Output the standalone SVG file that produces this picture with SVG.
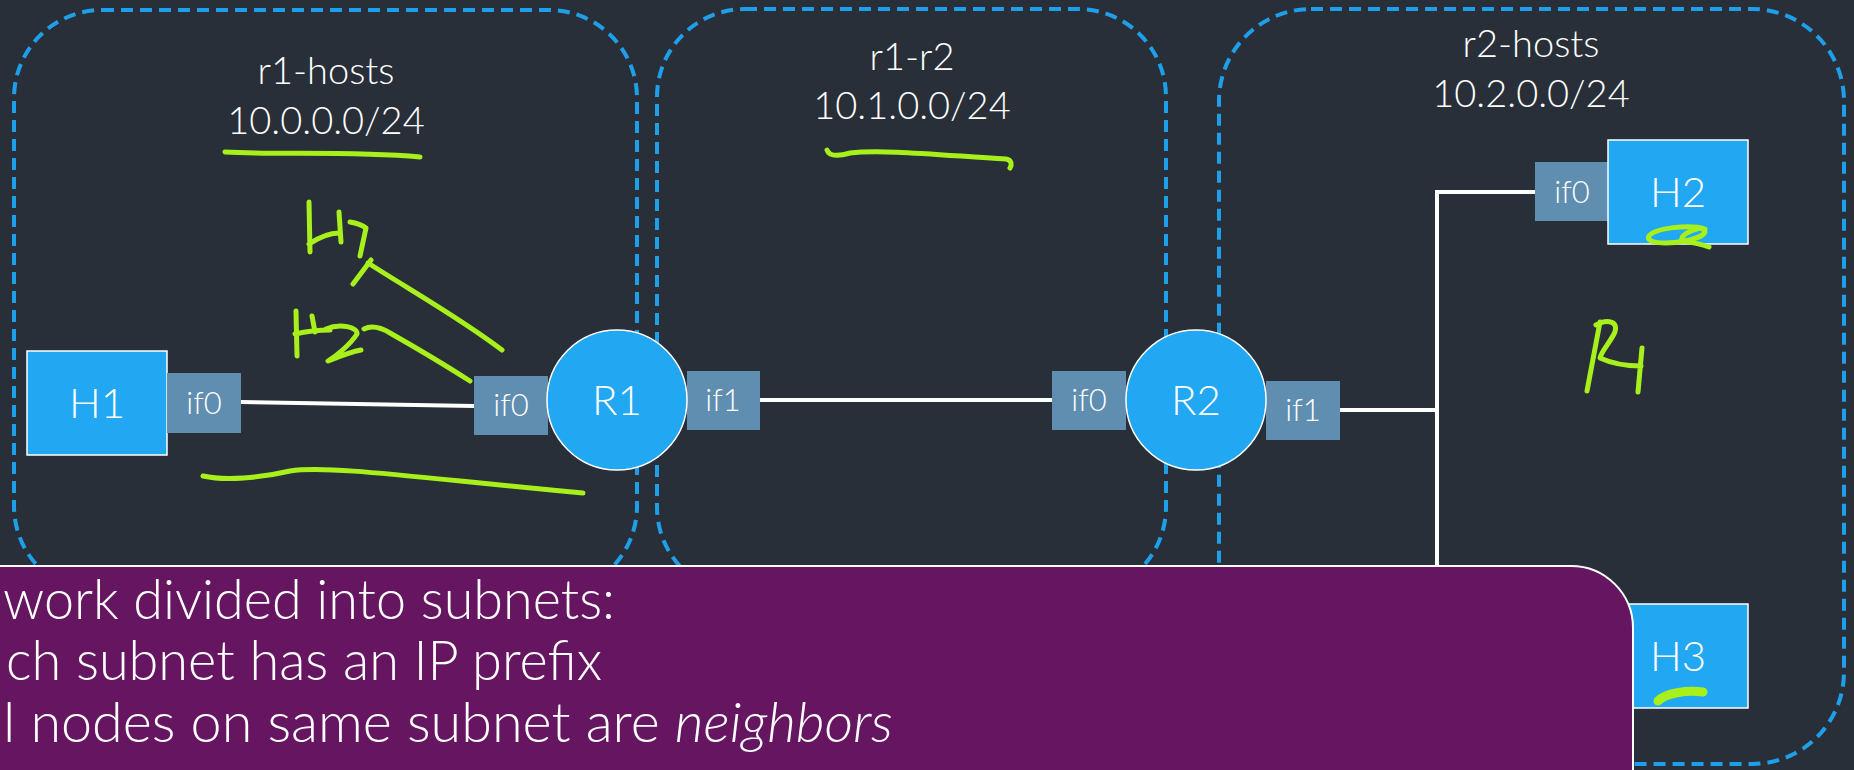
<svg xmlns="http://www.w3.org/2000/svg" width="1854" height="770" viewBox="0 0 1854 770">
  <style>
    .bg { fill: #282f38; }
    .subnet { fill: none; stroke: #1f9fea; stroke-width: 4; stroke-dasharray: 12 7; }
    .title { fill: #ffffff; font-family: Lato, "Liberation Sans", sans-serif; font-weight: 300; font-size: 38px; text-anchor: middle; }
    .link { fill: none; stroke: #ffffff; stroke-width: 4; }
    .node { fill: #22a7f2; stroke: #ffffff; stroke-width: 1.5; }
    .port { fill: #5f8eb0; }
    .nlabel { fill: #ffffff; font-family: Lato, "Liberation Sans", sans-serif; font-weight: 300; font-size: 42px; text-anchor: middle; }
    .plabel { fill: #ffffff; font-family: Lato, "Liberation Sans", sans-serif; font-weight: 300; font-size: 31px; text-anchor: middle; }
    .ink { fill: none; stroke: #a8f01c; stroke-width: 5; stroke-linecap: round; stroke-linejoin: round; }
    .panel { fill: #661661; stroke: #ffffff; stroke-width: 2; }
    .body { fill: #ffffff; font-family: Lato, "Liberation Sans", sans-serif; font-weight: 300; font-size: 56px; }
  </style>

  <rect class="bg" x="0" y="0" width="1854" height="770"/>

  <!-- subnets -->
  <g id="subnet-r1-hosts">
    <rect class="subnet" x="14" y="10" width="623" height="584" rx="88" ry="88"/>
    <text class="title" x="326" y="84">r1-hosts</text>
    <text class="title" x="326" y="134">10.0.0.0/24</text>
  </g>
  <g id="subnet-r1-r2">
    <rect class="subnet" x="657" y="9" width="509" height="586" rx="88" ry="88"/>
    <text class="title" x="912" y="70">r1-r2</text>
    <text class="title" x="912" y="119">10.1.0.0/24</text>
  </g>
  <g id="subnet-r2-hosts">
    <rect class="subnet" x="1219" y="9" width="625" height="755" rx="92" ry="92"/>
    <text class="title" x="1531" y="57">r2-hosts</text>
    <text class="title" x="1531" y="107">10.2.0.0/24</text>
  </g>

  <!-- links between interfaces -->
  <g id="connectors">
    <path class="link" d="M241,402 L474,406"/>
    <path class="link" d="M760,400 L1052,400"/>
    <path class="link" d="M1340,410 L1437,410"/>
    <path class="link" d="M1437,192 L1437,660"/>
    <path class="link" d="M1435,192 L1535,192"/>
  </g>

  <!-- hosts and routers -->
  <g id="H1">
    <rect class="node" x="27" y="351" width="140" height="104"/>
    <text class="nlabel" x="97" y="418">H1</text>
    <rect class="port" x="167" y="373" width="74" height="60"/>
    <text class="plabel" x="204" y="414">if0</text>
  </g>
  <g id="R1">
    <rect class="port" x="474" y="376" width="74" height="59"/>
    <text class="plabel" x="511" y="416">if0</text>
    <rect class="port" x="687" y="371" width="73" height="59"/>
    <text class="plabel" x="723" y="411">if1</text>
    <circle class="node" cx="617" cy="400" r="70"/>
    <text class="nlabel" x="617" y="415">R1</text>
  </g>
  <g id="R2">
    <rect class="port" x="1052" y="371" width="74" height="59"/>
    <text class="plabel" x="1089" y="411">if0</text>
    <rect class="port" x="1266" y="381" width="74" height="59"/>
    <text class="plabel" x="1303" y="421">if1</text>
    <circle class="node" cx="1196" cy="400" r="70"/>
    <text class="nlabel" x="1196" y="415">R2</text>
  </g>
  <g id="H2">
    <rect class="port" x="1535" y="162" width="74" height="59"/>
    <text class="plabel" x="1572" y="203">if0</text>
    <rect class="node" x="1608" y="140" width="140" height="104"/>
    <text class="nlabel" x="1678" y="207">H2</text>
  </g>
  <g id="H3">
    <rect class="node" x="1608" y="604" width="140" height="104"/>
    <text class="nlabel" x="1678" y="671">H3</text>
  </g>

  <!-- pen annotations -->
  <g id="ink">
    <path class="ink" d="M225,152 C280,155 350,151 420,157"/>
    <path class="ink" d="M827,150 C829,156 836,157 850,153 C880,149 940,155 1006,159 C1012,160 1012,165 1010,168"/>
    <path class="ink" d="M309,202 L310,252 M309,244 C318,238 328,233 339,233 M339,212 L341,242 M350,222 C356,223 362,225 366,228 L360,256 M371,260 L353,284 M368,263 C410,290 460,318 502,350"/>
    <path class="ink" d="M296,311 L297,356 M295,334 C308,331 318,330 330,330 M312,316 L315,332 M326,329 C340,323 358,327 357,334 C350,345 336,356 328,361 C338,357 350,352 361,350 M364,329 C372,325 380,327 390,333 C420,350 445,365 470,381"/>
    <path class="ink" d="M203,476 C225,481 260,478 290,471 C330,465 420,478 583,493"/>
    <path class="ink" d="M1600,322 L1587,391 M1596,325 C1608,318 1620,322 1614,334 C1608,345 1601,352 1600,358 C1613,364 1628,366 1641,366 M1642,348 L1638,392"/>
    <path class="ink" d="M1705,229 C1690,224 1655,228 1649,236 C1645,243 1665,245 1685,241 C1700,238 1712,232 1700,228 C1690,230 1680,236 1682,240 C1692,243 1702,244 1709,247"/>
    <path class="ink" style="stroke-width:9" d="M1658,701 C1666,693 1686,690 1703,692"/>
  </g>

  <!-- text panel -->
  <g id="notes">
    <path class="panel" d="M-10,566 H1571 A62,62 0 0 1 1633,628 V790 H-10 Z"/>
    <text class="body" x="3" y="619" textLength="612" lengthAdjust="spacingAndGlyphs">work divided into subnets:</text>
    <text class="body" x="6" y="680" textLength="596" lengthAdjust="spacingAndGlyphs">ch subnet has an IP prefix</text>
    <text class="body" x="3" y="742" textLength="890" lengthAdjust="spacingAndGlyphs">l nodes on same subnet are <tspan font-style="italic">neighbors</tspan></text>
  </g>
</svg>
